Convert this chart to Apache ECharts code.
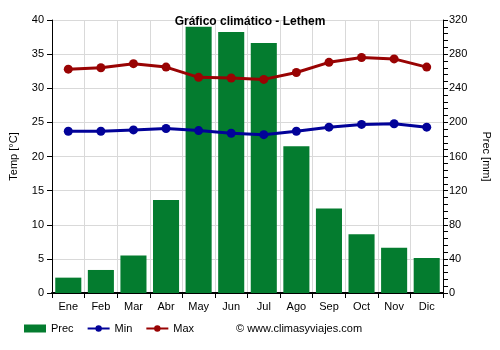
<!DOCTYPE html>
<html><head><meta charset="utf-8">
<script src="https://cdn.jsdelivr.net/npm/echarts@6/dist/echarts.min.js"></script>
<style>html,body{margin:0;padding:0;background:#fff}#c{width:500px;height:350px}</style>
</head><body><div id="c"></div>
<script>
const months = ['Ene','Feb','Mar','Abr','May','Jun','Jul','Ago','Sep','Oct','Nov','Dic'];
const prec = [18, 27, 44, 109, 312, 306, 293, 172, 99, 69, 53, 41];
const tmin = [23.7, 23.7, 23.9, 24.1, 23.8, 23.4, 23.2, 23.7, 24.3, 24.7, 24.8, 24.3];
const tmax = [32.8, 33.0, 33.6, 33.1, 31.6, 31.5, 31.3, 32.3, 33.8, 34.5, 34.3, 33.1];
const tempTicks = {min: 0, max: 40, interval: 5};
const precTicks = {min: 0, max: 320, interval: 40};

const font = '"Liberation Sans", Arial, sans-serif';
const chart = echarts.init(document.getElementById('c'), null, {renderer: 'canvas'});
chart.setOption({
  animation: false,
  textStyle: {fontFamily: font},
  title: [
    {text: 'Gráfico climático - Lethem', left: 'center', top: 11,
     textStyle: {fontSize: 12, fontWeight: 'bold', color: '#000', fontFamily: font}},
    {text: '© www.climasyviajes.com', left: 231, top: 318,
     textStyle: {fontSize: 11, fontWeight: 'normal', color: '#000', fontFamily: font}}
  ],
  legend: {
    left: 19, top: 318, itemGap: 13, itemWidth: 22, itemHeight: 8,
    textStyle: {fontSize: 11, color: '#000', fontFamily: font},
    data: [
      {name: 'Prec', icon: 'rect'},
      {name: 'Min'},
      {name: 'Max'}
    ]
  },
  grid: {left: 49, right: 54, top: 20, bottom: 57},
  xAxis: {
    type: 'category', data: months,
    axisLine: {lineStyle: {color: '#000', width: 2}},
    axisTick: {show: true, alignWithLabel: false, lineStyle: {color: '#000'}, length: 5},
    axisLabel: {color: '#000', fontSize: 11, margin: 8},
    splitLine: {show: true, interval: 0, lineStyle: {color: '#d9d9d9'}}
  },
  yAxis: [
    {type: 'value', name: 'Temp [°C]', nameLocation: 'middle', nameGap: 33, nameRotate: 90,
     nameTextStyle: {fontSize: 11, color: '#000'},
     min: tempTicks.min, max: tempTicks.max, interval: tempTicks.interval,
     axisLine: {show: true, lineStyle: {color: '#000'}},
     axisTick: {show: true, lineStyle: {color: '#000'}, length: 5},
     axisLabel: {color: '#000', fontSize: 11, margin: 8},
     splitLine: {show: true, lineStyle: {color: '#d9d9d9'}}},
    {type: 'value', name: 'Prec [mm]', nameLocation: 'middle', nameGap: 38, nameRotate: -90,
     nameTextStyle: {fontSize: 11, color: '#000'},
     min: precTicks.min, max: precTicks.max, interval: precTicks.interval,
     axisLine: {show: true, lineStyle: {color: '#000'}},
     axisTick: {show: true, lineStyle: {color: '#000'}, length: 5},
     minorTick: {show: true, splitNumber: 5, length: 5, lineStyle: {color: '#000'}},
     axisLabel: {color: '#000', fontSize: 11, margin: 6},
     splitLine: {show: false}}
  ],
  series: [
    {name: 'Prec', type: 'bar', yAxisIndex: 1, data: prec, barWidth: '80%',
     itemStyle: {color: '#047c2f'}},
    {name: 'Min', type: 'line', yAxisIndex: 0, data: tmin, symbol: 'circle', symbolSize: 9,
     lineStyle: {width: 3, color: '#020299'}, itemStyle: {color: '#020299'}},
    {name: 'Max', type: 'line', yAxisIndex: 0, data: tmax, symbol: 'circle', symbolSize: 9,
     lineStyle: {width: 3, color: '#990303'}, itemStyle: {color: '#990303'}}
  ]
});
</script></body></html>
